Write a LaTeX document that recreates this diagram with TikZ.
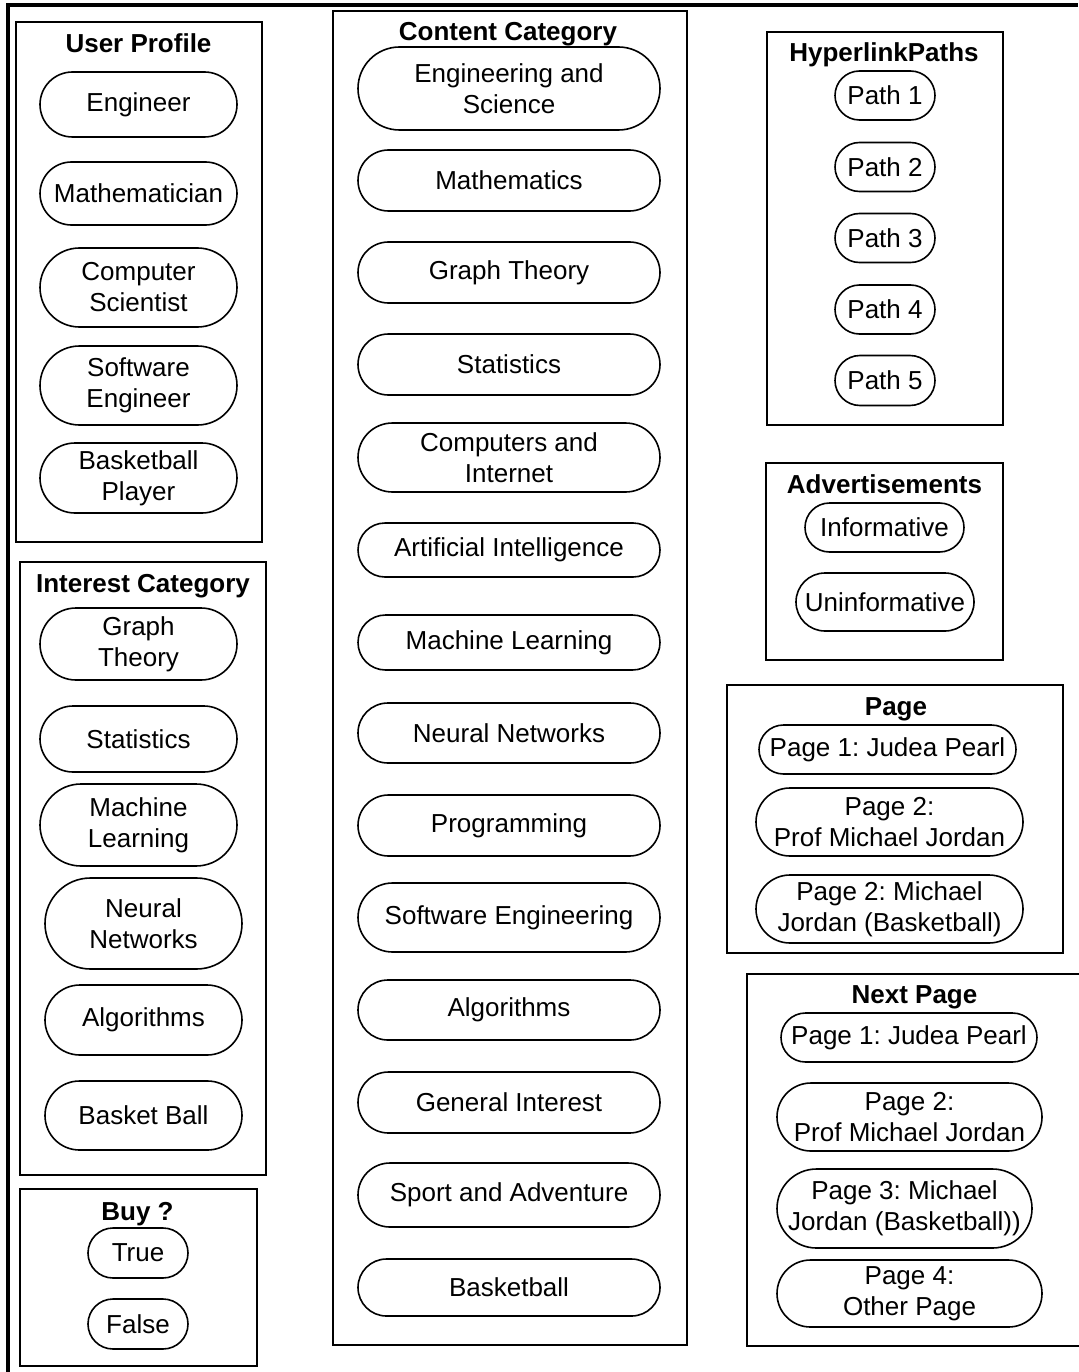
\documentclass[tikz,border=0pt]{standalone}
\usepackage{fontspec}
\setmainfont{Liberation Sans}
\frenchspacing
\begin{document}
\begin{tikzpicture}[x=1pt,y=-1pt,font=\fontsize{26}{31}\selectfont]
\tikzset{pill/.style 2 args={draw, line width=1.6pt, align=center, inner sep=0pt,
    minimum width=#1, minimum height=#2, rounded corners=#2/2}}
\tikzstyle{group} = [draw, line width=1.6pt]
\tikzstyle{grouptitle} = [anchor=base, inner sep=0pt, font=\fontsize{26}{31}\selectfont\bfseries]
\useasboundingbox (0,0) rectangle (1078,1372);

% outer frame (only top and left edges show)
\draw[line width=4pt] (8,1372) -- (8,5.5) -- (1078,5.5);

% user profile
\draw[group] (16,22) rectangle (262,542);
\node[grouptitle] (uptitle) at (138.5,53) {User Profile};
\node[pill={197}{65}] (eng) at (138.5,104.5) {Engineer};
\node[pill={197}{63}] (math) at (138.5,193.5) {Mathematician};
\node[pill={197}{79}] (csci) at (138.5,287.5) {Computer\\Scientist};
\node[pill={197}{79}] (sweng) at (138.5,385.5) {Software\\Engineer};
\node[pill={197}{70}] (bball) at (138.5,478) {Basketball\\Player};

% interest category
\draw[group] (20,562) rectangle (266,1175);
\node[grouptitle] (ictitle) at (143,592) {Interest Category};
\node[pill={197}{72}] (igraph) at (138.5,644) {Graph\\Theory};
\node[pill={197}{66}] (istat) at (138.5,739) {Statistics};
\node[pill={197}{82}] (iml) at (138.5,825) {Machine\\Learning};
\node[pill={197}{91}] (inn) at (143.5,923.5) {Neural\\Networks};
\node[pill={197}{70}] (ialg) at (143.5,1020) {Algorithms};
\node[pill={197}{69}] (iball) at (143.5,1115.5) {Basket Ball};

% buy
\draw[group] (20,1189) rectangle (257,1366);
\node[grouptitle] (buytitle) at (137.5,1220) {Buy ?};
\node[pill={100}{50}] (btrue) at (138,1253) {True};
\node[pill={100}{50}] (bfalse) at (138,1324) {False};

% content category
\draw[group] (333,11) rectangle (687,1345);
\node[grouptitle] (cctitle) at (508,41) {Content Category};
\node[pill={302}{83}] (cengsci) at (509,88.5) {Engineering and\\Science};
\node[pill={302}{61}] (cmath) at (509,180.5) {Mathematics};
\node[pill={302}{61}] (cgraph) at (509,272.5) {Graph Theory};
\node[pill={302}{61}] (cstat) at (509,364.5) {Statistics};
\node[pill={302}{69}] (ccomp) at (509,457.5) {Computers and\\Internet};
\node[pill={302}{54}] (cai) at (509,550) {Artificial Intelligence};
\node[pill={302}{55}] (cml) at (509,642.5) {Machine Learning};
\node[pill={302}{60}] (cnn) at (509,733) {Neural Networks};
\node[pill={302}{61}] (cprog) at (509,825.5) {Programming};
\node[pill={302}{69}] (csweng) at (509,917.5) {Software Engineering};
\node[pill={302}{60}] (calg) at (509,1010) {Algorithms};
\node[pill={302}{61}] (cgen) at (509,1102.5) {General Interest};
\node[pill={302}{64}] (csport) at (509,1195) {Sport and Adventure};
\node[pill={302}{57}] (cball) at (509,1287.5) {Basketball};

% hyperlink paths
\draw[group] (767,32) rectangle (1003,425);
\node[grouptitle] (hptitle) at (884,62) {HyperlinkPaths};
\node[pill={100}{49}] (path1) at (885,95.5) {Path 1};
\node[pill={100}{49}] (path2) at (885,167) {Path 2};
\node[pill={100}{49}] (path3) at (885,238) {Path 3};
\node[pill={100}{49}] (path4) at (885,309.5) {Path 4};
\node[pill={100}{50}] (path5) at (885,380.5) {Path 5};

% advertisements
\draw[group] (766,463) rectangle (1003,660);
\node[grouptitle] (adtitle) at (884.5,493) {Advertisements};
\node[pill={159}{49}] (adinf) at (884.5,527.5) {Informative};
\node[pill={178}{58}] (aduninf) at (885,602) {Uninformative};

% page
\draw[group] (727,685) rectangle (1063,953);
\node[grouptitle] (pgtitle) at (896,715) {Page};
\node[pill={257}{49}] (pgpearl) at (887.5,749.5) {Page 1: Judea Pearl};
\node[pill={267}{68}] (pgprof) at (889.5,822) {Page 2:\\Prof Michael Jordan};
\node[pill={267}{68}] (pgbball) at (889.5,909) {Page 2: Michael\\Jordan (Basketball)};

% next page
\draw[group] (1080,974) -- (747,974) -- (747,1346) -- (1080,1346);
\node[grouptitle] (nptitle) at (914.5,1003) {Next Page};
\node[pill={256}{49}] (nppearl) at (909,1037.5) {Page 1: Judea Pearl};
\node[pill={265}{68}] (npprof) at (909.5,1117) {Page 2:\\Prof Michael Jordan};
\node[pill={255}{79}] (npbball) at (904.5,1208.5) {Page 3: Michael\\Jordan (Basketball))};
\node[pill={265}{67}] (npother) at (909.5,1293.5) {Page 4:\\Other Page};
\end{tikzpicture}
\end{document}
